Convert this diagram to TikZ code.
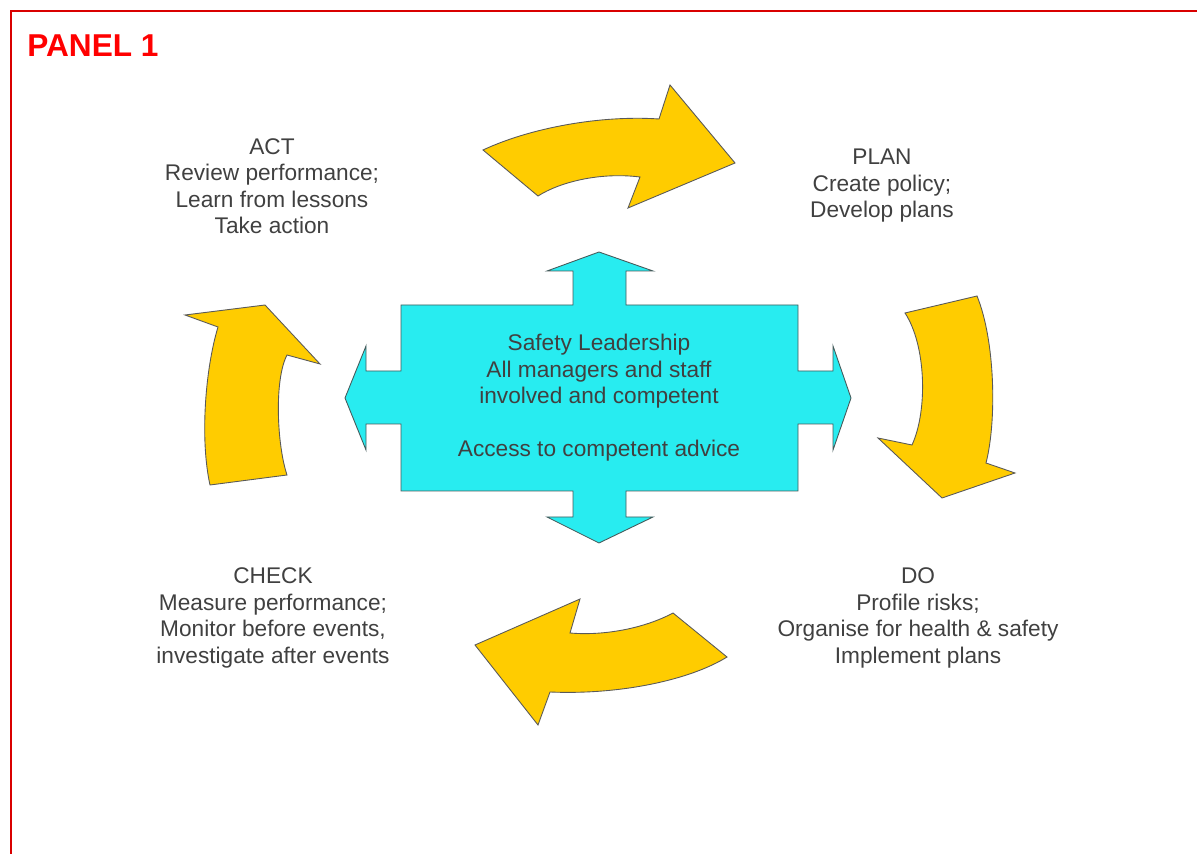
\documentclass[tikz,border=0pt]{standalone}
\usepackage{fontspec}
\setmainfont{Liberation Sans}
\usepackage{tikz}

\definecolor{pdcagold}{RGB}{255,204,0}
\definecolor{pdcacyan}{RGB}{40,236,240}
\definecolor{pdcaedge}{RGB}{70,90,90}
\tikzset{
	goldarrow/.style={fill=pdcagold, draw=black!65, line width=0.5pt},
	lbl/.style={font=\fontsize{12.9}{15.1}\selectfont, text=black!75, align=center}
}

\begin{document}
\begin{tikzpicture}[x=0.02cm,y=-0.02cm]
				\useasboundingbox (0,0) rectangle (1197,854);
				\draw[red!85!black, line width=0.7pt] (11,854) -- (11,11) -- (1197,11);
				\node[font=\bfseries\fontsize{18}{22}\selectfont, text=red, anchor=base west, inner sep=0pt] (panel) at (27,57) {PANEL 1};
				% centre block with four arrows
				\filldraw[fill=pdcacyan, draw=pdcaedge, line width=0.5pt] (401,305) -- (573,305) -- (573,271) -- (547,271) -- (599,252) -- (653,271) -- (626,271) -- (626,305) -- (798,305) -- (798,371) -- (833,371) -- (833,346) -- (851,398) -- (833,450) -- (833,424) -- (798,424) -- (798,491) -- (626,491) -- (626,517) -- (653,517) -- (599,543) -- (547,517) -- (573,517) -- (573,491) -- (401,491) -- (401,424) -- (366,424) -- (366,450) -- (345,398) -- (366,346) -- (366,371) -- (401,371) -- cycle;
				\node[lbl] (lead) at (599,398) {Safety Leadership\\All managers and staff\\involved and competent\\[15.1pt]Access to competent advice};
				% the four curved arrows
				\filldraw[goldarrow] (483,150) .. controls (530,128) and (600,115) .. (659,119) -- (670,85) -- (735,163) -- (628,208) -- (640,177) .. controls (600,172) and (560,182) .. (538,196) -- cycle;
				\filldraw[goldarrow] (905,313) -- (977,296) .. controls (995,340) and (997,420) .. (986,463) -- (1015,473) -- (942,498) -- (878,438) -- (912,445) .. controls (928,410) and (926,345) .. (905,313) -- cycle;
				\filldraw[goldarrow] (475,645) -- (580,599) -- (570,633) .. controls (605,636) and (645,628) .. (673,613) -- (727,657) .. controls (690,680) and (620,695) .. (550,692) -- (538,725) -- cycle;
				\filldraw[goldarrow] (210,485) -- (287,475) .. controls (277,445) and (274,380) .. (287,355) -- (320,364) -- (265,305) -- (185,315) -- (218,327) .. controls (205,370) and (200,440) .. (210,485) -- cycle;
				% stage texts
				\node[lbl] (act) at (272,186) {ACT\\Review performance;\\Learn from lessons\\Take action};
				\node[lbl] (plan) at (882,186) {PLAN\\Create policy;\\Develop plans};
				\node[lbl] (check) at (273,618) {CHECK\\Measure performance;\\Monitor before events,\\investigate after events};
				\node[lbl] (do) at (918,618) {DO\\Profile risks;\\Organise for health \& safety\\Implement plans};
		\end{tikzpicture}
\end{document}
